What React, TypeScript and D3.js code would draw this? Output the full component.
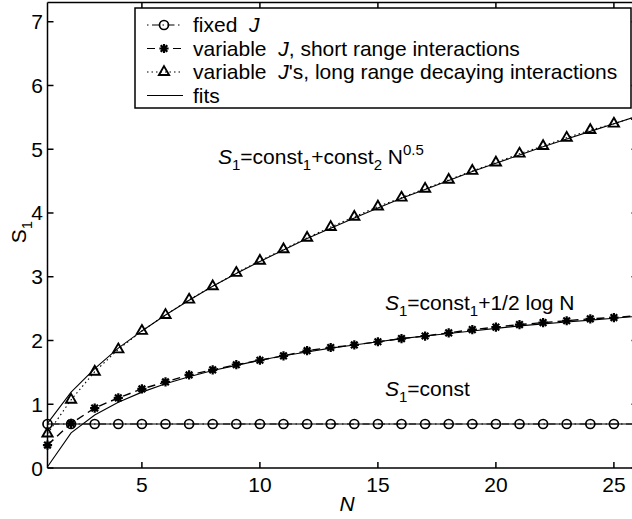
import * as d3 from "d3";

// values
const nValues = [1, 2, 3, 4, 5, 6, 7, 8, 9, 10, 11, 12, 13, 14, 15, 16, 17, 18, 19, 20, 21, 22, 23, 24, 25, 26];
const fixedJ = [0.69, 0.69, 0.69, 0.69, 0.69, 0.69, 0.69, 0.69, 0.69, 0.69, 0.69, 0.69, 0.69, 0.69, 0.69, 0.69, 0.69, 0.69, 0.69, 0.69, 0.69, 0.69, 0.69, 0.69, 0.69, 0.69];
const shortRange = [0.36, 0.7, 0.94, 1.1, 1.24, 1.35, 1.46, 1.54, 1.62, 1.69, 1.76, 1.84, 1.89, 1.93, 1.98, 2.03, 2.07, 2.12, 2.17, 2.21, 2.25, 2.28, 2.31, 2.34, 2.36, 2.39];
const longRange = [0.54, 1.07, 1.51, 1.86, 2.15, 2.4, 2.64, 2.85, 3.06, 3.25, 3.43, 3.61, 3.78, 3.94, 4.1, 4.24, 4.38, 4.52, 4.66, 4.79, 4.93, 5.05, 5.18, 5.3, 5.4, 5.52];
const fitConst = [0.69, 0.69, 0.69, 0.69, 0.69, 0.69, 0.69, 0.69, 0.69, 0.69, 0.69, 0.69, 0.69, 0.69, 0.69, 0.69, 0.69, 0.69, 0.69, 0.69, 0.69, 0.69, 0.69, 0.69, 0.69, 0.69];
const fitLog = [0.02, 0.55, 0.83, 1.03, 1.19, 1.32, 1.43, 1.53, 1.61, 1.69, 1.76, 1.82, 1.88, 1.93, 1.98, 2.03, 2.07, 2.11, 2.15, 2.19, 2.23, 2.26, 2.29, 2.32, 2.35, 2.38];
const fitSqrt = [0.7, 1.19, 1.56, 1.88, 2.15, 2.4, 2.63, 2.85, 3.05, 3.24, 3.42, 3.6, 3.76, 3.92, 4.08, 4.23, 4.37, 4.51, 4.65, 4.78, 4.91, 5.04, 5.16, 5.28, 5.4, 5.52];
const xTicks = [5, 10, 15, 20, 25];
const yTicks = [0, 1, 2, 3, 4, 5, 6, 7];

const W = 632;
const H = 519;
const FONT = "'Liberation Sans', Arial, Helvetica, sans-serif";
const FS = 21;

const x = d3.scaleLinear().domain([1, 26]).range([47.5, 637.5]);
const y = d3.scaleLinear().domain([0, 7.3]).range([468, 2.6]);

const line = d3
  .line<number>()
  .x((_, i) => x(nValues[i]))
  .y((d) => y(d));

const tri = d3.symbol(d3.symbolTriangle, 45);

function star(cx: number, cy: number, r = 4.6) {
  const d = r * 0.72;
  return `M${cx - r},${cy}L${cx + r},${cy}M${cx},${cy - r}L${cx},${cy + r}` +
    `M${cx - d},${cy - d}L${cx + d},${cy + d}M${cx - d},${cy + d}L${cx + d},${cy - d}`;
}

type Part = { t: string; italic?: boolean; sub?: boolean; sup?: boolean };

function MathText({ x, y, parts, anchor = "start", transform }: {
  x: number; y: number; parts: Part[]; anchor?: string; transform?: string;
}) {
  let shift = 0;
  const spans = parts.map((p, i) => {
    const target = p.sub ? 6 : p.sup ? -9 : 0;
    const dy = target - shift;
    shift = target;
    return (
      <tspan key={i} dy={dy} fontSize={p.sub || p.sup ? 15 : FS} fontStyle={p.italic ? "italic" : "normal"}>
        {p.t}
      </tspan>
    );
  });
  return (
    <text x={x} y={y} textAnchor={anchor} transform={transform} fontFamily={FONT} fontSize={FS} fill="#000">
      {spans}
    </text>
  );
}

const legendRows = [
  { label: [{ t: "fixed\u00a0\u00a0" }, { t: "J", italic: true }], dash: "1.5,3.5,7,3.5", marker: "circle" },
  { label: [{ t: "variable\u00a0\u00a0" }, { t: "J", italic: true }, { t: ", short range interactions" }], dash: "8,5", marker: "star" },
  { label: [{ t: "variable\u00a0\u00a0" }, { t: "J", italic: true }, { t: "'s, long range decaying interactions" }], dash: "1.5,3", marker: "tri" },
  { label: [{ t: "fits" }], dash: "", marker: "" },
];
const legendBaselines = [32, 55.5, 79, 102.5];

export default function App() {
  const x0 = x(1);
  const y0 = y(0);
  const yTop = y(7.3);
  const xEnd = x(26);

  return (
    <div style={{ position: "absolute", left: 0, top: 0 }}>
      <svg width={W} height={H} style={{ display: "block", background: "#fff" }}>
        <rect width={W} height={H} fill="#fff" />

        {/* data lines */}
        <path d={line(fixedJ) ?? ""} fill="none" stroke="#000" strokeWidth={1.1} strokeDasharray="1.5,3.5,7,3.5" />
        <path d={line(shortRange) ?? ""} fill="none" stroke="#000" strokeWidth={1.4} strokeDasharray="8,5" />
        <path d={line(longRange) ?? ""} fill="none" stroke="#000" strokeWidth={1.1} strokeDasharray="1.5,3" />

        {/* fits */}
        <path d={line(fitConst) ?? ""} fill="none" stroke="#000" strokeWidth={1.1} />
        <path d={line(fitLog) ?? ""} fill="none" stroke="#000" strokeWidth={1.1} />
        <path d={line(fitSqrt) ?? ""} fill="none" stroke="#000" strokeWidth={1.1} />

        {/* markers */}
        {fixedJ.map((v, i) => (
          <circle key={`c${i}`} cx={x(nValues[i])} cy={y(v)} r={4.5} fill="none" stroke="#000" strokeWidth={1.7} />
        ))}
        {shortRange.map((v, i) => (
          <path key={`s${i}`} d={star(x(nValues[i]), y(v))} stroke="#000" strokeWidth={2.2} fill="none" />
        ))}
        {longRange.map((v, i) => (
          <path key={`t${i}`} d={tri() ?? ""} transform={`translate(${x(nValues[i])},${y(v)})`} fill="none" stroke="#000" strokeWidth={1.9} />
        ))}

        {/* axes box */}
        <g stroke="#000" strokeWidth={1.5} fill="none">
          <line x1={x0} x2={x0} y1={yTop} y2={y0} />
          <line x1={x0} x2={xEnd} y1={y0} y2={y0} />
          <line x1={x0} x2={xEnd} y1={yTop} y2={yTop} />
          <line x1={xEnd} x2={xEnd} y1={yTop} y2={y0} />
          {xTicks.map((t) => (
            <g key={`xt${t}`}>
              <line x1={x(t)} x2={x(t)} y1={y0} y2={y0 - 6} />
              <line x1={x(t)} x2={x(t)} y1={yTop} y2={yTop + 6} />
            </g>
          ))}
          {yTicks.map((t) => (
            <g key={`yt${t}`}>
              <line x1={x0} x2={x0 + 6} y1={y(t)} y2={y(t)} />
              <line x1={xEnd} x2={xEnd - 6} y1={y(t)} y2={y(t)} />
            </g>
          ))}
        </g>
        <g fontFamily={FONT} fontSize={FS} fill="#000">
          {xTicks.map((t) => (
            <text key={`xl${t}`} x={x(t)} y={491.5} textAnchor="middle">{t}</text>
          ))}
          {yTicks.map((t) => (
            <text key={`yl${t}`} x={43} y={y(t) + 7.5} textAnchor="end">{t}</text>
          ))}
          <text x={347} y={511} textAnchor="middle" fontStyle="italic">N</text>
        </g>
        <MathText x={0} y={0} anchor="middle" transform="translate(26,232) rotate(-90)" parts={[{ t: "S" }, { t: "1", sub: true }]} />

        {/* annotations */}
        <MathText x={218} y={164} parts={[
          { t: "S", italic: true }, { t: "1", sub: true }, { t: "=const" }, { t: "1", sub: true },
          { t: "+const" }, { t: "2", sub: true }, { t: "\u00a0N" }, { t: "0.5", sup: true },
        ]} />
        <MathText x={385} y={310} parts={[
          { t: "S", italic: true }, { t: "1", sub: true }, { t: "=const" }, { t: "1", sub: true },
          { t: "+1/2 log N" },
        ]} />
        <MathText x={385} y={396} parts={[{ t: "S", italic: true }, { t: "1", sub: true }, { t: "=const" }]} />

        {/* legend */}
        <rect x={135} y={8} width={496} height={100} fill="#fff" stroke="#000" strokeWidth={1.5} />
        {legendRows.map((row, i) => {
          const cy = legendBaselines[i] - 7;
          return (
            <g key={`lg${i}`}>
              <line x1={147} x2={183} y1={cy} y2={cy} stroke="#000" strokeWidth={1.2} strokeDasharray={row.dash || undefined} />
              {row.marker === "circle" && <circle cx={164} cy={cy} r={4.5} fill="none" stroke="#000" strokeWidth={1.7} />}
              {row.marker === "star" && <path d={star(164, cy)} stroke="#000" strokeWidth={2.2} />}
              {row.marker === "tri" && <path d={tri() ?? ""} transform={`translate(164,${cy})`} fill="none" stroke="#000" strokeWidth={1.9} />}
              <MathText x={193} y={legendBaselines[i]} parts={row.label} />
            </g>
          );
        })}
      </svg>
    </div>
  );
}
